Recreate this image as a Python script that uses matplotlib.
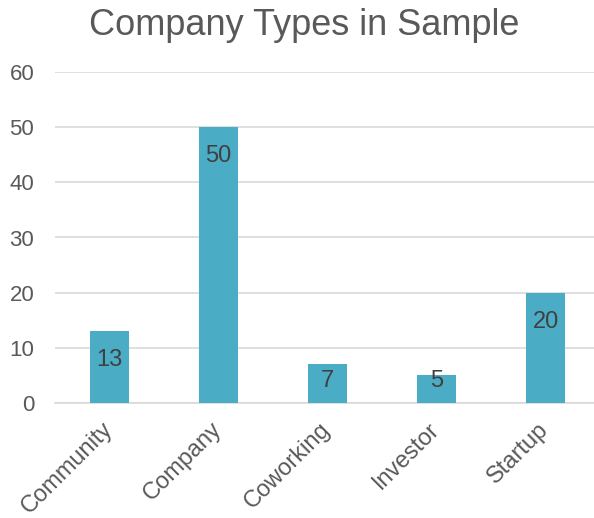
import matplotlib.pyplot as plt
import matplotlib.transforms as mtransforms

categories = ['Community', 'Company', 'Coworking', 'Investor', 'Startup']
counts = [13, 50, 7, 5, 20]
y_ticks = [0, 10, 20, 30, 40, 50, 60]

plt.rcParams['font.family'] = ['Liberation Sans', 'DejaVu Sans']

fig = plt.figure(figsize=(5.94, 5.18), dpi=100)
ax = fig.add_axes([55 / 594, 115 / 518, 1 - 55 / 594, 331 / 518])

x = range(len(categories))
bars = ax.bar(x, counts, width=0.36, color='#4BACC6', zorder=3)

ax.set_ylim(0, 60)
px_per_unit = 331 / 60

# value labels inside end; short bars keep the label just above the base
for b, v in zip(bars, counts):
    y_lab = max(v - 35 / px_per_unit, 16 / px_per_unit)
    ax.text(b.get_x() + b.get_width() / 2, y_lab, str(v), ha='center', va='baseline',
            fontsize=17, color='#404040', zorder=4)

ax.set_xlim(-0.5, (594 - 55) / 109 - 0.5)
ax.set_yticks(y_ticks)
ax.set_xticks(list(x))
ax.set_xticklabels(categories, rotation=45, ha='right', rotation_mode='anchor')
ax.tick_params(axis='both', length=0, labelsize=16, labelcolor='#595959')
ax.tick_params(axis='x', labelsize=17, pad=11)
ax.tick_params(axis='y', pad=15)
shift = mtransforms.ScaledTranslation(-8 / 100, 0, fig.dpi_scale_trans)
for lbl in ax.get_xticklabels():
    lbl.set_transform(lbl.get_transform() + shift)
ax.grid(axis='y', color='#D9D9D9', linewidth=1.2, zorder=0)
for s in ['top', 'right', 'left']:
    ax.spines[s].set_visible(False)
ax.spines['bottom'].set_color('#D9D9D9')
ax.spines['bottom'].set_linewidth(1.2)

fig.text(304.5 / 594, 1 - 35 / 518, 'Company Types in Sample', ha='center', va='baseline',
         fontsize=26, color='#595959')

fig.savefig('out.png', dpi=100)
